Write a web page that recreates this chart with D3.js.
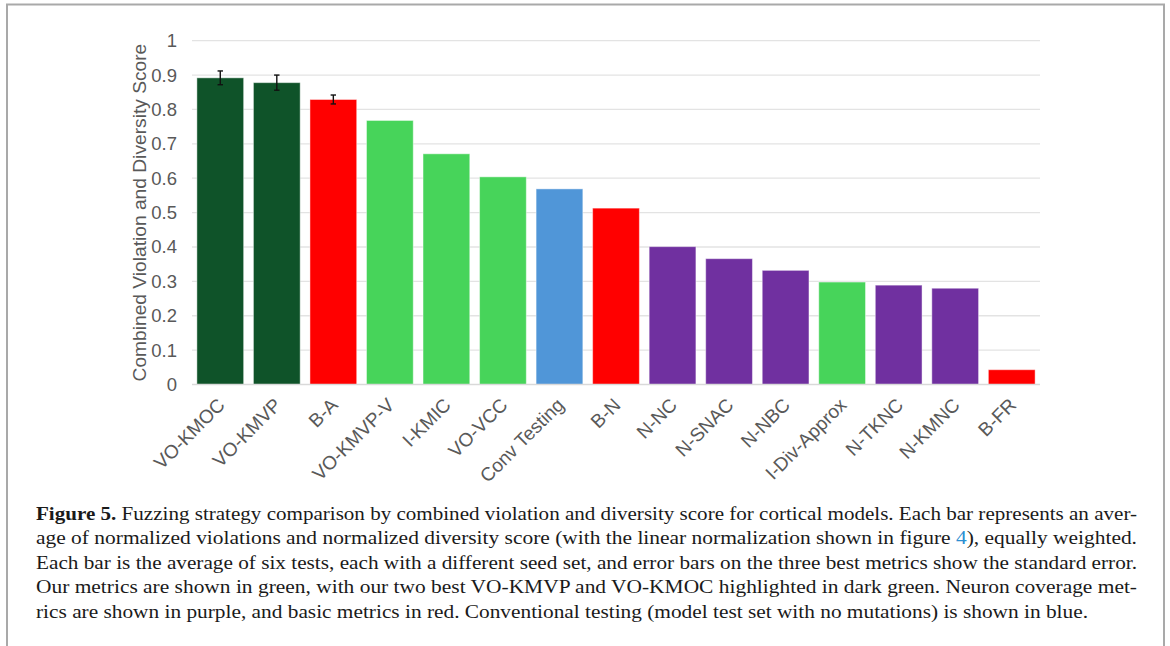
<!DOCTYPE html>
<html>
<head>
<meta charset="utf-8">
<script src="https://cdn.jsdelivr.net/npm/d3@7/dist/d3.min.js"></script>
<style>
  html, body { margin: 0; padding: 0; background: #fff; }
  svg { display: block; }
</style>
</head>
<body>
<script>
// ---- data ----
const categories = ["VO-KMOC", "VO-KMVP", "B-A", "VO-KMVP-V", "I-KMIC", "VO-VCC", "Conv Testing", "B-N",
  "N-NC", "N-SNAC", "N-NBC", "I-Div-Approx", "N-TKNC", "N-KMNC", "B-FR"];
const values = [0.892, 0.878, 0.829, 0.768, 0.671, 0.604, 0.569, 0.513,
  0.401, 0.366, 0.332, 0.298, 0.289, 0.280, 0.043];
const errors = [0.020, 0.022, 0.013, null, null, null, null, null,
  null, null, null, null, null, null, null];
const groups = ["best", "best", "basic", "ours", "ours", "ours", "conv", "basic",
  "neuron", "neuron", "neuron", "ours", "neuron", "neuron", "basic"];
const groupNames = ["best", "ours", "neuron", "basic", "conv"];
const groupColors = ["#0f5329", "#47d45a", "#7030a0", "#ff0000", "#5096d8"];
const yTicks = [0, 0.1, 0.2, 0.3, 0.4, 0.5, 0.6, 0.7, 0.8, 0.9, 1];
const yTitle = "Combined Violation and Diversity Score";
const captionLines = [
  [["Figure 5.", "bold"], [" Fuzzing strategy comparison by combined violation and diversity score for cortical models. Each bar represents an aver-", ""]],
  [["age of normalized violations and normalized diversity score (with the linear normalization shown in figure ", ""], ["4", "link"], ["), equally weighted.", ""]],
  [["Each bar is the average of six tests, each with a different seed set, and error bars on the three best metrics show the standard error.", ""]],
  [["Our metrics are shown in green, with our two best VO-KMVP and VO-KMOC highlighted in dark green. Neuron coverage met-", ""]],
  [["rics are shown in purple, and basic metrics in red. Conventional testing (model test set with no mutations) is shown in blue.", ""]]
];

// ---- layout ----
const W = 1170, H = 646;
const svg = d3.select("body").append("svg").attr("width", W).attr("height", H);

// frame
svg.append("path")
  .attr("d", `M7,${H} L7,4.5 L1164,4.5 L1164,${H}`)
  .attr("fill", "none").attr("stroke", "#a9a9a9").attr("stroke-width", 2);

const pLeft = 192, pRight = 1040, pTop = 40.7, pBottom = 384.5;

const x = d3.scaleBand().domain(categories).range([pLeft, pRight])
  .paddingInner(0.173).paddingOuter(0.0865);
const y = d3.scaleLinear().domain([0, 1]).range([pBottom, pTop]);
const color = d3.scaleOrdinal().domain(groupNames).range(groupColors);

// gridlines
svg.append("g").selectAll("line").data(yTicks.filter(d => d > 0)).join("line")
  .attr("x1", pLeft).attr("x2", pRight)
  .attr("y1", d => y(d)).attr("y2", d => y(d))
  .attr("stroke", "#e3e3e3").attr("stroke-width", 1.3);

// y axis labels
const yAxis = d3.axisLeft(y).tickValues(yTicks).tickSize(0).tickPadding(15)
  .tickFormat(d => String(+d.toFixed(1)));
const yg = svg.append("g").attr("transform", `translate(${pLeft},0)`).call(yAxis);
yg.select(".domain").remove();
yg.selectAll("text").attr("font-family", "Liberation Sans, Arial, sans-serif")
  .attr("font-size", 18.5).attr("fill", "#595959");

// y title
svg.append("text")
  .attr("transform", `translate(146,${(pTop + pBottom) / 2}) rotate(-90)`)
  .attr("text-anchor", "middle")
  .attr("font-family", "Liberation Sans, Arial, sans-serif")
  .attr("font-size", 19.2).attr("fill", "#595959")
  .text(yTitle);

// bars
const data = categories.map((c, i) => ({ c, v: values[i], e: errors[i], g: groups[i] }));
svg.append("g").selectAll("rect").data(data).join("rect")
  .attr("x", d => x(d.c)).attr("width", x.bandwidth())
  .attr("y", d => y(d.v)).attr("height", d => y(0) - y(d.v))
  .attr("fill", d => color(d.g))
  .attr("stroke", "#ffffff").attr("stroke-opacity", 0.45).attr("stroke-width", 1);

// x axis line
svg.append("line").attr("x1", pLeft).attr("x2", pRight)
  .attr("y1", y(0)).attr("y2", y(0))
  .attr("stroke", "#d9d9d9").attr("stroke-width", 1.3);

// error bars
const eb = svg.append("g").selectAll("g").data(data.filter(d => d.e != null)).join("g")
  .attr("stroke", "#111").attr("stroke-width", 1.4);
eb.append("line")
  .attr("x1", d => x(d.c) + x.bandwidth() / 2).attr("x2", d => x(d.c) + x.bandwidth() / 2)
  .attr("y1", d => y(d.v + d.e)).attr("y2", d => y(d.v - d.e));
eb.append("line")
  .attr("x1", d => x(d.c) + x.bandwidth() / 2 - 2.7).attr("x2", d => x(d.c) + x.bandwidth() / 2 + 2.7)
  .attr("y1", d => y(d.v + d.e)).attr("y2", d => y(d.v + d.e));
eb.append("line")
  .attr("x1", d => x(d.c) + x.bandwidth() / 2 - 2.7).attr("x2", d => x(d.c) + x.bandwidth() / 2 + 2.7)
  .attr("y1", d => y(d.v - d.e)).attr("y2", d => y(d.v - d.e));

// x labels
svg.append("g").selectAll("text").data(categories).join("text")
  .attr("transform", d => `translate(${x(d) + x.bandwidth() / 2 - 4},${pBottom + 12}) rotate(-45)`)
  .attr("text-anchor", "end")
  .attr("dy", "0.72em")
  .attr("font-family", "Liberation Sans, Arial, sans-serif")
  .attr("font-size", 19).attr("fill", "#595959")
  .text(d => d);

// caption
const capX = 36, capRight = 1137, capY0 = 519.5, capDy = 24.6;
const cap = svg.append("g").attr("font-family", "Liberation Serif, Times New Roman, serif")
  .attr("font-size", 19.5).attr("fill", "#1a1a1a");
captionLines.forEach((parts, i) => {
  const t = cap.append("text").attr("x", capX).attr("y", capY0 + i * capDy);
  parts.forEach(([s, k]) => {
    const ts = t.append("tspan").text(s);
    if (k === "bold") ts.attr("font-weight", "bold");
    if (k === "link") ts.attr("fill", "#2b8fd1");
  });
  const len = i < captionLines.length - 1 ? capRight - capX : 1088 - capX;
  t.attr("textLength", len).attr("lengthAdjust", "spacingAndGlyphs");
});
</script>
</body>
</html>
